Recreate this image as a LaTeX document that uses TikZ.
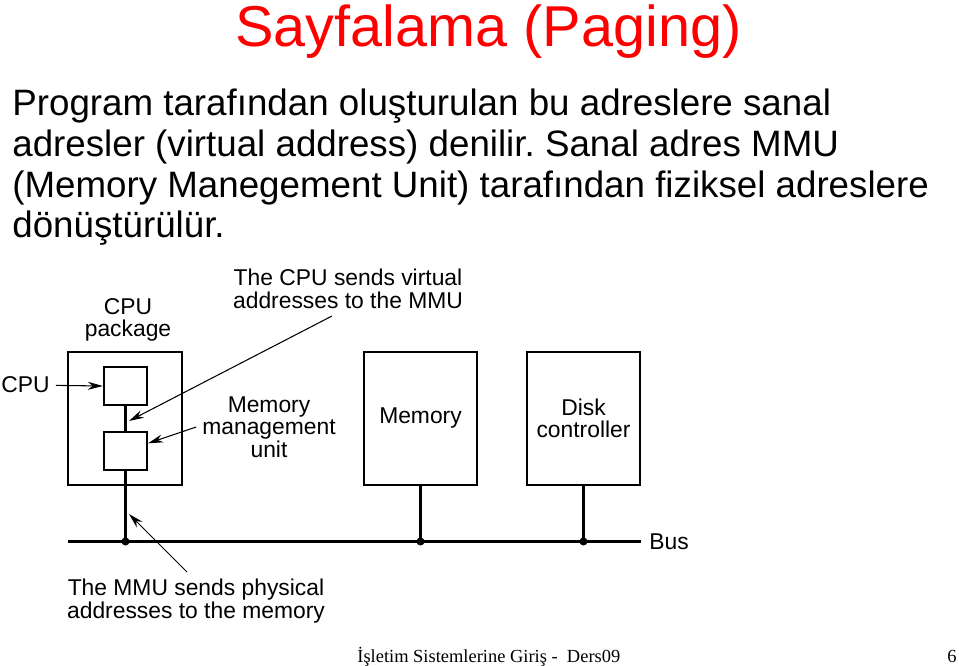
\documentclass[tikz,border=0pt]{standalone}
\usepackage{fontspec}
\setmainfont{Liberation Sans}
\newfontfamily\footfont{Liberation Serif}
\usepackage{tikz}
\usetikzlibrary{arrows, arrows.meta, calc, positioning}
\frenchspacing

\begin{document}
\begin{tikzpicture}[>={Stealth[length=3mm, width=1.6mm]},
		unitbox/.style={draw, line width=1.3pt, inner sep=0pt},
		lbl/.style={align=center, font=\fontsize{13}{12.8}\selectfont},
		note/.style={->, line width=0.6pt}]
		\useasboundingbox (0,0) rectangle (19.18,-13.32);

		\node(title) [anchor=base, inner sep=0pt, font=\fontsize{32.8}{36}\selectfont] at (9.77,-0.94) {\textcolor{red}{Sayfalama (Paging)}};
		% base of a multi-line node is its last line
		\node(body) [anchor=base west, inner sep=0pt, align=left, font=\fontsize{20.9}{23.2}\selectfont] at (0.24,-4.76) {Program tarafından oluşturulan bu adreslere sanal\\adresler (virtual address) denilir. Sanal adres MMU\\(Memory Manegement Unit) tarafından fiziksel adreslere\\dönüştürülür.};

		\node(pkg)  [unitbox, minimum width=2.28cm, minimum height=2.66cm] at (2.5,-8.37) {};
		\node(cpu)  [unitbox, minimum width=0.86cm, minimum height=0.76cm] at (2.51,-7.72) {};
		\node(mmu)  [unitbox, minimum width=0.86cm, minimum height=0.76cm] at (2.51,-9.02) {};
		\node(mem)  [unitbox, lbl, minimum width=2.26cm, minimum height=2.66cm] at (8.41,-8.37) {Memory};
		\node(disk) [unitbox, lbl, minimum width=2.26cm, minimum height=2.66cm] at (11.67,-8.37) {Disk\\controller};

		\node(cpulbl) [lbl] at (0.51,-7.7) {CPU};
		\node(pkglbl) [lbl] at (2.56,-6.4) {CPU\\package};
		\node(virt)   [lbl] at (6.96,-5.78) {The CPU sends virtual\\addresses to the MMU};
		\node(mmulbl) [lbl] at (5.38,-8.54) {Memory\\management\\unit};
		\node(phys)   [lbl] at (3.92,-12.02) {The MMU sends physical\\addresses to the memory};
		\node(bus)    [lbl, anchor=west, inner sep=0pt] at (12.98,-10.84) {Bus};

		\coordinate(busL) at (1.36,-10.83);
		\coordinate(busR) at (12.82,-10.83);
		\coordinate(vtail) at (6.64,-6.32);
		\coordinate(vtip) at (2.58,-8.42);
		\coordinate(ptail) at (3.74,-11.44);
		\coordinate(ptip) at (2.58,-10.28);

		% bus and the taps onto it
		\draw[line width=1.5pt] (busL) -- (busR);
		\draw[line width=1.3pt] (cpu) -- (mmu);
		\draw[line width=1.3pt] (mmu.south) -- (mmu.south |- busL);
		\draw[line width=1.3pt] (mem.south) -- (mem.south |- busL);
		\draw[line width=1.3pt] (disk.south) -- (disk.south |- busL);
		\fill (mmu.south |- busL) circle (0.08);
		\fill (mem.south |- busL) circle (0.08);
		\fill (disk.south |- busL) circle (0.08);

		\draw[note] (cpulbl) -- (cpu.west);
		\draw[note] (vtail) -- (vtip);
		\draw[note] (mmulbl.west) -- (mmu);
		\draw[note] (ptail) -- (ptip);

		\node(foot) [anchor=base west, inner sep=0pt, font=\footfont\fontsize{10.5}{12}\selectfont] at (7.14,-13.24) {İşletim Sistemlerine Giriş -\ \ Ders09};
		\node(page) [anchor=base east, inner sep=0pt, font=\footfont\fontsize{10.5}{12}\selectfont] at (19.14,-13.24) {6};
\end{tikzpicture}
\end{document}
